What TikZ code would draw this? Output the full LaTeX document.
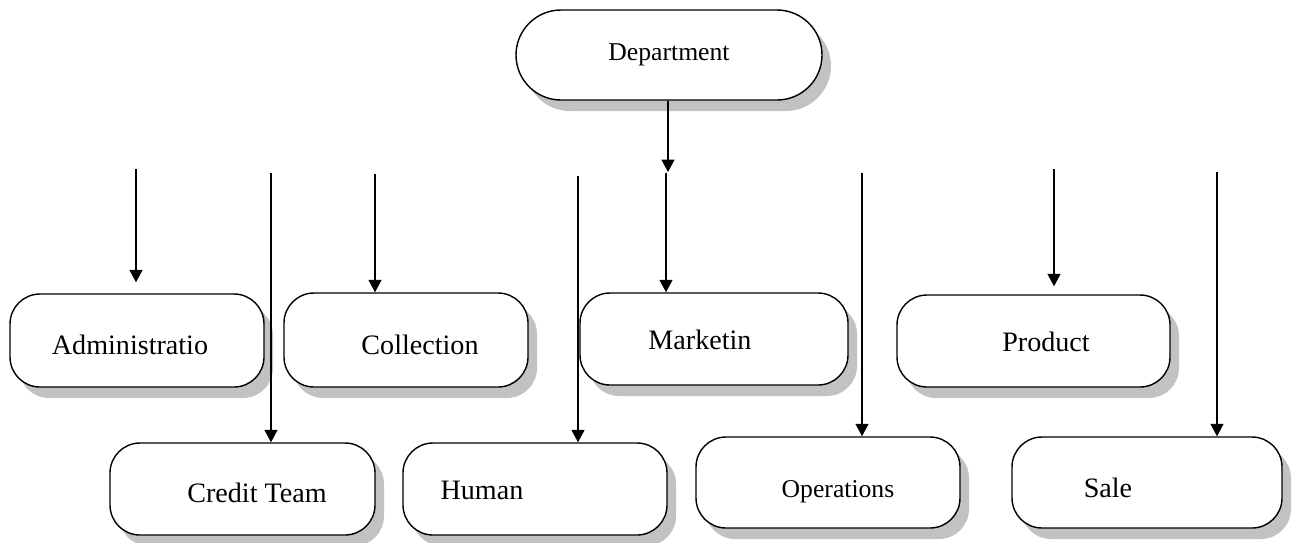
\documentclass[tikz,border=0pt]{standalone}
\usepackage{fontspec}
\setmainfont{Liberation Serif}
\usetikzlibrary{arrows.meta,shadows}
\tikzset{
  unit/.style={draw, line width=0.8pt, fill=white, rounded corners=0.6cm,
    inner sep=0pt, minimum width=5.3cm, minimum height=1.84cm,
    drop shadow={shadow xshift=0.18cm, shadow yshift=-0.22cm, fill=black!24, opacity=1}},
  unitname/.style={font=\fontsize{16}{19}\selectfont, inner sep=0pt},
  feed/.style={line width=0.8pt, -{Triangle[width=0.26cm,length=0.25cm]}}
}
\begin{document}
\begin{tikzpicture}
  \useasboundingbox (0,0) rectangle (25.9,-10.84);
  % boxes
  \node[unit, rounded corners=0.9cm, minimum width=6.12cm, minimum height=1.8cm] (dept) at (13.38,-1.1) {};
  \node[unit, minimum width=5.08cm, minimum height=1.86cm] (admin) at (2.74,-6.81) {};
  \node[unit, minimum width=4.88cm, minimum height=1.88cm] (coll) at (8.12,-6.8) {};
  \node[unit, minimum width=5.36cm] (mark) at (14.28,-6.78) {};
  \node[unit, minimum width=5.46cm] (prod) at (20.67,-6.82) {};
  \node[unit] (credit) at (4.85,-9.78) {};
  \node[unit, minimum width=5.28cm] (human) at (10.7,-9.78) {};
  \node[unit, minimum width=5.28cm, minimum height=1.82cm] (oper) at (16.56,-9.65) {};
  \node[unit, minimum width=5.4cm, minimum height=1.82cm] (sale) at (22.94,-9.65) {};
  % texts
  \node[unitname, font=\fontsize{14.6}{17}\selectfont] (deptname) at (13.38,-1.1) {Department};
  \node[unitname] (adminname) at (2.6,-6.9) {Administratio};
  \node[unitname] (collname) at (8.4,-6.9) {Collection};
  \node[unitname] (markname) at (14.0,-6.8) {Marketin};
  \node[unitname] (prodname) at (20.92,-6.84) {Product};
  \node[unitname] (creditname) at (5.14,-9.86) {Credit Team};
  \node[unitname] (humanname) at (9.64,-9.8) {Human};
  \node[unitname, font=\fontsize{14.6}{17}\selectfont] (opername) at (16.76,-9.84) {Operations};
  \node[unitname] (salename) at (22.16,-9.76) {Sale};
  % loose line tops
  \coordinate (dtip) at (13.36,-3.44);
  \coordinate (t1) at (2.72,-3.38);
  \coordinate (t2) at (5.42,-3.46);
  \coordinate (t3) at (7.5,-3.48);
  \coordinate (t4) at (11.56,-3.52);
  \coordinate (t5) at (13.32,-3.46);
  \coordinate (t6) at (17.24,-3.46);
  \coordinate (t7) at (21.08,-3.38);
  \coordinate (t8) at (24.34,-3.44);
  \draw[feed] (dept.south -| dtip) -- (dtip);
  \draw[feed, shorten >=0.22cm] (t1) -- (t1 |- admin.north);
  \draw[feed] (t2) -- (t2 |- credit.north);
  \draw[feed] (t3) -- (t3 |- coll.north);
  \draw[feed] (t4) -- (t4 |- human.north);
  \draw[feed] (t5) -- (t5 |- mark.north);
  \draw[feed] (t6) -- (t6 |- oper.north);
  \draw[feed, shorten >=0.16cm] (t7) -- (t7 |- prod.north);
  \draw[feed] (t8) -- (t8 |- sale.north);
\end{tikzpicture}
\end{document}
